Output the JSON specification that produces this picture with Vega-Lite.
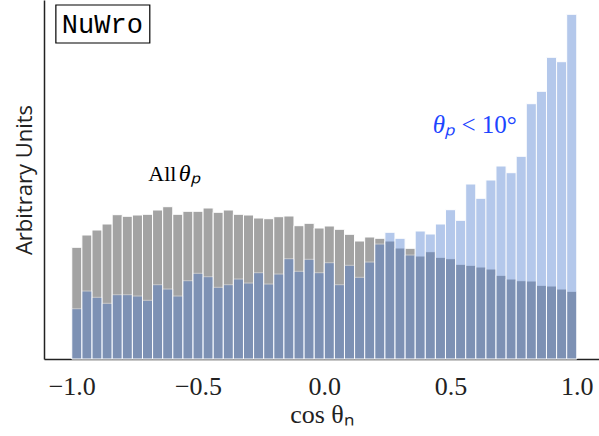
{
  "$schema": "https://vega.github.io/schema/vega-lite/v6.json",
  "width": 555,
  "height": 359,
  "autosize": {"type": "none"},
  "padding": {"left": 44, "top": 0, "right": 0, "bottom": 77},
  "background": "white",
  "config": {"view": {"stroke": null}, "axis": {"grid": false}},
  "datasets": {
    "hist": [
      {"x0": -1.00, "x1": -0.96, "all": 111.7, "small": 50.3},
      {"x0": -0.96, "x1": -0.92, "all": 124.0, "small": 68.0},
      {"x0": -0.92, "x1": -0.88, "all": 129.0, "small": 61.7},
      {"x0": -0.88, "x1": -0.84, "all": 135.0, "small": 55.7},
      {"x0": -0.84, "x1": -0.80, "all": 144.3, "small": 64.3},
      {"x0": -0.80, "x1": -0.76, "all": 142.7, "small": 64.3},
      {"x0": -0.76, "x1": -0.72, "all": 144.0, "small": 63.0},
      {"x0": -0.72, "x1": -0.68, "all": 144.7, "small": 58.7},
      {"x0": -0.68, "x1": -0.64, "all": 149.0, "small": 74.3},
      {"x0": -0.64, "x1": -0.60, "all": 152.3, "small": 70.0},
      {"x0": -0.60, "x1": -0.56, "all": 144.7, "small": 63.0},
      {"x0": -0.56, "x1": -0.52, "all": 147.7, "small": 78.3},
      {"x0": -0.52, "x1": -0.48, "all": 147.7, "small": 85.7},
      {"x0": -0.48, "x1": -0.44, "all": 151.0, "small": 82.3},
      {"x0": -0.44, "x1": -0.40, "all": 146.7, "small": 71.7},
      {"x0": -0.40, "x1": -0.36, "all": 149.0, "small": 74.3},
      {"x0": -0.36, "x1": -0.32, "all": 144.7, "small": 80.0},
      {"x0": -0.32, "x1": -0.28, "all": 144.0, "small": 76.0},
      {"x0": -0.28, "x1": -0.24, "all": 141.0, "small": 86.3},
      {"x0": -0.24, "x1": -0.20, "all": 140.3, "small": 75.0},
      {"x0": -0.20, "x1": -0.16, "all": 142.3, "small": 85.0},
      {"x0": -0.16, "x1": -0.12, "all": 143.0, "small": 100.3},
      {"x0": -0.12, "x1": -0.08, "all": 133.3, "small": 87.7},
      {"x0": -0.08, "x1": -0.04, "all": 135.7, "small": 99.7},
      {"x0": -0.04, "x1": 0.00, "all": 131.0, "small": 86.3},
      {"x0": 0.00, "x1": 0.04, "all": 133.0, "small": 96.3},
      {"x0": 0.04, "x1": 0.08, "all": 129.7, "small": 74.3},
      {"x0": 0.08, "x1": 0.12, "all": 124.7, "small": 93.7},
      {"x0": 0.12, "x1": 0.16, "all": 118.0, "small": 81.7},
      {"x0": 0.16, "x1": 0.20, "all": 122.0, "small": 97.0},
      {"x0": 0.20, "x1": 0.24, "all": 120.7, "small": 115.0},
      {"x0": 0.24, "x1": 0.28, "all": 118.0, "small": 126.7},
      {"x0": 0.28, "x1": 0.32, "all": 111.0, "small": 120.7},
      {"x0": 0.32, "x1": 0.36, "all": 110.7, "small": 104.0},
      {"x0": 0.36, "x1": 0.40, "all": 103.0, "small": 128.0},
      {"x0": 0.40, "x1": 0.44, "all": 107.3, "small": 125.0},
      {"x0": 0.44, "x1": 0.48, "all": 101.7, "small": 135.0},
      {"x0": 0.48, "x1": 0.52, "all": 100.3, "small": 149.3},
      {"x0": 0.52, "x1": 0.56, "all": 94.7, "small": 138.7},
      {"x0": 0.56, "x1": 0.60, "all": 93.7, "small": 175.0},
      {"x0": 0.60, "x1": 0.64, "all": 92.0, "small": 160.7},
      {"x0": 0.64, "x1": 0.68, "all": 90.0, "small": 179.0},
      {"x0": 0.68, "x1": 0.72, "all": 83.7, "small": 193.0},
      {"x0": 0.72, "x1": 0.76, "all": 80.0, "small": 186.3},
      {"x0": 0.76, "x1": 0.80, "all": 78.3, "small": 202.7},
      {"x0": 0.80, "x1": 0.84, "all": 78.0, "small": 255.3},
      {"x0": 0.84, "x1": 0.88, "all": 73.7, "small": 267.7},
      {"x0": 0.88, "x1": 0.92, "all": 73.0, "small": 301.7},
      {"x0": 0.92, "x1": 0.96, "all": 70.0, "small": 297.3},
      {"x0": 0.96, "x1": 1.00, "all": 67.7, "small": 344.7}
    ]
  },
  "layer": [
    {
      "data": {"name": "hist"},
      "mark": {"type": "bar", "color": "#a3a3a3", "stroke": "white", "strokeWidth": 1},
      "encoding": {
        "x": {
          "field": "x0", "type": "quantitative",
          "scale": {"domain": [-1.11, 1.088], "nice": false, "zero": false},
          "axis": {
            "values": [-1, -0.5, 0, 0.5, 1], "format": ".1f", "ticks": false,
            "labelFont": "Liberation Serif", "labelFontSize": 26, "labelColor": "#222",
            "labelPadding": 14, "labelFlush": false,
            "domainColor": "#222", "domainWidth": 1.5,
            "title": "cos θₙ", "titleFont": "Liberation Serif", "titleFontSize": 26,
            "titleFontWeight": "normal", "titleColor": "#222", "titlePadding": 2
          }
        },
        "x2": {"field": "x1"},
        "y": {
          "field": "all", "type": "quantitative",
          "scale": {"domain": [0, 359], "nice": false},
          "axis": {
            "labels": false, "ticks": false,
            "domainColor": "#222", "domainWidth": 1.5,
            "title": "Arbitrary Units", "titleFont": "Open Sans", "titleFontSize": 22,
            "titleFontWeight": "normal", "titleColor": "#222", "titlePadding": 8
          }
        },
        "y2": {"datum": 0}
      }
    },
    {
      "data": {"name": "hist"},
      "mark": {"type": "bar", "color": "#4678cf", "opacity": 0.4, "stroke": "white", "strokeWidth": 1},
      "encoding": {
        "x": {"field": "x0", "type": "quantitative"},
        "x2": {"field": "x1"},
        "y": {"field": "small", "type": "quantitative"},
        "y2": {"datum": 0}
      }
    },
    {
      "data": {"values": [{}]},
      "mark": {"type": "rect", "fill": "white", "stroke": "black", "strokeWidth": 1.2},
      "encoding": {
        "x": {"datum": -1.063, "type": "quantitative"},
        "x2": {"datum": -0.691},
        "y": {"datum": 354, "type": "quantitative"},
        "y2": {"datum": 316}
      }
    },
    {
      "data": {"values": [{}]},
      "mark": {"type": "text", "text": "NuWro", "font": "Liberation Mono", "fontSize": 27, "align": "center", "baseline": "alphabetic", "color": "black"},
      "encoding": {
        "x": {"datum": -0.879, "type": "quantitative"},
        "y": {"datum": 325.7, "type": "quantitative"}
      }
    },
    {
      "data": {"values": [{}]},
      "mark": {"type": "text", "text": "All", "font": "Liberation Serif", "fontSize": 22, "align": "center", "baseline": "alphabetic", "color": "black"},
      "encoding": {
        "x": {"datum": -0.641, "type": "quantitative"},
        "y": {"datum": 178.3, "type": "quantitative"}
      }
    },
    {
      "data": {"values": [{}]},
      "mark": {"type": "text", "text": "θₚ", "font": "Liberation Serif", "fontSize": 24, "fontStyle": "italic", "align": "left", "baseline": "alphabetic", "color": "black"},
      "encoding": {
        "x": {"datum": -0.576, "type": "quantitative"},
        "y": {"datum": 178.3, "type": "quantitative"}
      }
    },
    {
      "data": {"values": [{}]},
      "mark": {"type": "text", "text": "θₚ", "font": "Liberation Serif", "fontSize": 25, "fontStyle": "italic", "align": "left", "baseline": "alphabetic", "color": "#1c45ff"},
      "encoding": {
        "x": {"datum": 0.43, "type": "quantitative"},
        "y": {"datum": 225.7, "type": "quantitative"}
      }
    },
    {
      "data": {"values": [{}]},
      "mark": {"type": "text", "text": "< 10°", "font": "Liberation Serif", "fontSize": 25, "align": "left", "baseline": "alphabetic", "color": "#1c45ff"},
      "encoding": {
        "x": {"datum": 0.543, "type": "quantitative"},
        "y": {"datum": 225.7, "type": "quantitative"}
      }
    }
  ]
}
